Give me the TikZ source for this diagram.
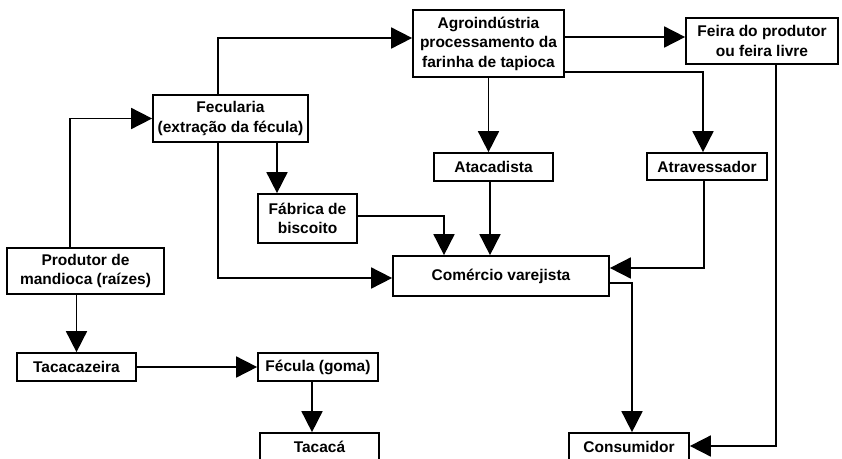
\documentclass[tikz,border=0pt]{standalone}
\usepackage{fontspec}
\setmainfont{Liberation Sans}
\usetikzlibrary{arrows.meta}
\begin{document}
\begin{tikzpicture}[x=1pt,y=-1pt,
    box/.style={draw,line width=1.7pt,inner sep=0pt,align=center,
      font=\bfseries\fontsize{15.5}{19.5}\selectfont},
    arr/.style={line width=1.7pt,-{Triangle[length=21pt,width=21pt]}}]
        \useasboundingbox (0,0) rectangle (842,458);
        \clip (0,0) rectangle (842,458);

        \node[box,minimum width=151pt,minimum height=67pt] (agro) at (488.5,43.5)
          {Agroindústria\\processamento da\\farinha de tapioca};
        \node[box,minimum width=152pt,minimum height=46pt] (feira) at (762,41)
          {Feira do produtor\\ou feira livre};
        \node[box,minimum width=155pt,minimum height=47pt] (fec) at (230.5,118.5)
          {Fecularia\\(extração da fécula)};
        \node[box,minimum width=119pt,minimum height=28pt] (atac) at (493.5,167) {Atacadista};
        \node[box,minimum width=120pt,minimum height=27pt] (atrav) at (707,166.5) {Atravessador};
        \node[box,minimum width=99pt,minimum height=49pt] (fab) at (307.5,218.5)
          {Fábrica de\\biscoito};
        \node[box,minimum width=216pt,minimum height=40pt] (com) at (501,276) {Comércio varejista};
        \node[box,minimum width=157pt,minimum height=46pt] (prod) at (85.5,271)
          {Produtor de\\mandioca (raízes)};
        \node[box,minimum width=119pt,minimum height=28pt] (tacz) at (76.5,367) {Tacacazeira};
        \node[box,minimum width=120pt,minimum height=28pt] (gom) at (318,367) {Fécula (goma)};
        \node[box,minimum width=119pt,minimum height=28pt] (taca) at (319.5,447) {Tacacá};
        \node[box,minimum width=120pt,minimum height=28pt] (cons) at (629,447) {Consumidor};

        % upper part
        \draw[arr] ([xshift=-15.5pt]prod.north) |- (fec.west);
        \draw[arr] ([xshift=-12.5pt]fec.north) |- ([yshift=5.5pt]agro.west);
        \draw[arr] ([yshift=6.5pt]agro.east) -- ([yshift=4pt]feira.west);
        \draw[arr] (agro.south) -- (agro.south |- atac.north);
        \draw[arr] ([yshift=-28.5pt]agro.east) -| ([xshift=-4pt]atrav.north);
        \draw[arr] ([xshift=14pt]feira.south) |- ([yshift=1pt]cons.east);

        % into the retail box
        \draw[arr] ([xshift=46.5pt]fec.south) -- ([xshift=-30.5pt]fab.north);
        \draw[arr] ([xshift=-12.5pt]fec.south) |- ([yshift=-2pt]com.west);
        \draw[arr] ([yshift=2.5pt]fab.east) -| ([xshift=-57pt]com.north);
        \draw[arr] ([xshift=-3.5pt]atac.south) -- ([xshift=-3.5pt]atac.south |- com.north);
        \draw[arr] ([xshift=-3pt]atrav.south) |- ([yshift=8pt]com.east);
        \draw[arr] ([yshift=-7pt]com.east) -| ([xshift=3pt]cons.north);

        % tacaca branch
        \draw[arr] (tacz.north |- prod.south) -- (tacz.north);
        \draw[arr] (tacz.east) -- (gom.west);
        \draw[arr] ([xshift=-6pt]gom.south) -- ([xshift=-6pt]gom.south |- taca.north);
      \end{tikzpicture}
\end{document}
